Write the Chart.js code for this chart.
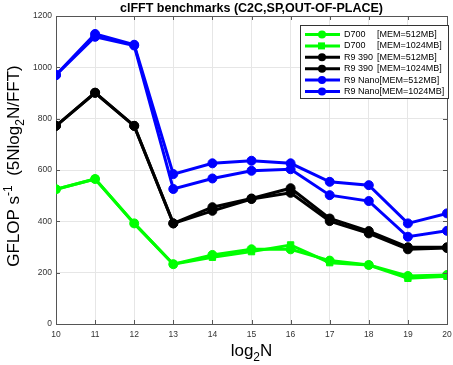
<!DOCTYPE html>
<html>
<head>
<meta charset="utf-8">
<script src="https://cdn.jsdelivr.net/npm/chart.js@4"></script>
<style>
  body { margin: 0; background: #fff; }
  #wrap { width: 453px; height: 365px; }
</style>
</head>
<body>
<div id="wrap"><canvas id="myChart" width="453" height="365"></canvas></div>
<script>
let log2N = [10, 11, 12, 13, 14, 15, 16, 17, 18, 19, 20]
let yTicks = [0, 200, 400, 600, 800, 1000, 1200]

let d700_512 = [525, 565, 392, 233, 269, 291, 291, 247, 230, 187, 191]
let d700_1024 = [525, 565, 392, 233, 260, 282, 308, 239, 230, 178, 186]
let r9390_512 = [772, 901, 772, 392, 455, 489, 529, 411, 362, 299, 299]
let r9390_1024 = [772, 901, 772, 392, 441, 487, 511, 401, 353, 291, 296]
let nano_512 = [970, 1119, 1085, 526, 567, 597, 603, 502, 479, 340, 363]
let nano_1024 = [970, 1130, 1088, 584, 626, 636, 626, 554, 541, 392, 431]

let names = ['D700', 'D700', 'R9 390', 'R9 390', 'R9 Nano', 'R9 Nano']
let mems = ['[MEM=512MB]', '[MEM=1024MB]', '[MEM=512MB]', '[MEM=1024MB]', '[MEM=512MB]', '[MEM=1024MB]']
let colors = ['#00ff00', '#00ff00', '#000000', '#000000', '#0000ff', '#0000ff']
let markers = ['circle', 'rect', 'circle', 'circle', 'circle', 'circle']
let series = [d700_512, d700_1024, r9390_512, r9390_1024, nano_512, nano_1024]

const FONT = '"Liberation Sans", Arial, sans-serif'

const datasets = series.map((vals, i) => ({
    label: names[i] + ' ' + mems[i],
    data: vals.map((v, j) => ({ x: log2N[j], y: v })),
    borderColor: colors[i],
    backgroundColor: colors[i],
    borderWidth: 3,
    pointStyle: markers[i],
    pointRadius: 4.5,
    pointBorderWidth: 1,
    tension: 0
}))

// matlab-ish extras: title, axis labels with sub/superscripts, box, legend inside
const extras = {
    id: 'extras',
    afterDraw(chart) {
        const c = chart.ctx
        const a = chart.chartArea
        c.save()
        // box top and right
        c.strokeStyle = '#555'
        c.lineWidth = 1
        c.beginPath()
        c.moveTo(a.left, a.top + 0.5); c.lineTo(a.right + 0.5, a.top + 0.5); c.lineTo(a.right + 0.5, a.bottom)
        c.stroke()
        // inward ticks
        const xs = chart.scales.x, ys = chart.scales.y
        c.beginPath()
        log2N.forEach(v => {
            const px = Math.round(xs.getPixelForValue(v)) + 0.5
            c.moveTo(px, a.bottom); c.lineTo(px, a.bottom - 4)
            c.moveTo(px, a.top); c.lineTo(px, a.top + 4)
        })
        yTicks.forEach(v => {
            const py = Math.round(ys.getPixelForValue(v)) + 0.5
            c.moveTo(a.left, py); c.lineTo(a.left + 4, py)
            c.moveTo(a.right, py); c.lineTo(a.right - 4, py)
        })
        c.stroke()

        // title
        c.fillStyle = '#000'
        c.font = 'bold 12.5px ' + FONT
        c.textAlign = 'center'
        c.textBaseline = 'alphabetic'
        c.fillText('clFFT benchmarks (C2C,SP,OUT-OF-PLACE)', (a.left + a.right) / 2, 12)

        // x label log2N
        c.textAlign = 'left'
        const xl = 'log', xs2 = '2', xn = 'N'
        c.font = '17px ' + FONT
        const w1 = c.measureText(xl).width
        c.font = '12px ' + FONT
        const w2 = c.measureText(xs2).width
        c.font = '17px ' + FONT
        const w3 = c.measureText(xn).width
        let x0 = (a.left + a.right) / 2 - (w1 + w2 + w3) / 2
        const by = 356
        c.fillText(xl, x0, by)
        c.font = '12px ' + FONT
        c.fillText(xs2, x0 + w1, by + 5)
        c.font = '17px ' + FONT
        c.fillText(xn, x0 + w1 + w2, by)

        // y label, rotated
        c.save()
        c.translate(19, 166)
        c.rotate(-Math.PI / 2)
        const parts = [
            ['GFLOP s', 17, 0], ['-1', 12, -7], ['  (5Nlog', 17, 0], ['2', 12, 5], ['N/FFT)', 17, 0]
        ]
        let tw = 0
        parts.forEach(p => { c.font = p[1] + 'px ' + FONT; tw += c.measureText(p[0]).width })
        let px = -tw / 2
        parts.forEach(p => {
            c.font = p[1] + 'px ' + FONT
            c.fillText(p[0], px, p[2])
            px += c.measureText(p[0]).width
        })
        c.restore()

        // legend box
        const lx = 300, ly = 25, lw = 148, lh = 73
        c.fillStyle = '#fff'
        c.fillRect(lx, ly, lw, lh)
        c.strokeStyle = '#333'
        c.lineWidth = 1
        c.strokeRect(lx + 0.5, ly + 0.5, lw, lh)
        c.font = '9px ' + FONT
        c.textBaseline = 'middle'
        names.forEach((n, i) => {
            const yy = ly + 9.5 + i * 11.4
            c.strokeStyle = colors[i]
            c.fillStyle = colors[i]
            c.lineWidth = 3
            c.beginPath(); c.moveTo(305, yy); c.lineTo(340, yy); c.stroke()
            if (markers[i] === 'rect') {
                c.fillRect(318, yy - 3.5, 7, 7)
            } else {
                c.beginPath(); c.arc(322, yy, 4, 0, Math.PI * 2); c.fill()
            }
            c.fillStyle = '#000'
            c.fillText(n, 344, yy)
            const mx = Math.max(377, 344 + c.measureText(n).width)
            c.fillText(mems[i], mx, yy)
        })
        c.restore()
    }
}

const ctx = document.getElementById('myChart').getContext('2d')
const myChart = new Chart(ctx, {
    type: 'line',
    data: { datasets: datasets },
    options: {
        responsive: false,
        animation: false,
        layout: { padding: { top: 16, right: 6, left: 0, bottom: 0 } },
        plugins: { legend: { display: false }, title: { display: false }, tooltip: { enabled: false } },
        scales: {
            x: {
                type: 'linear', min: 10, max: 20,
                afterFit: (s) => { s.height = 41; s.paddingLeft = 0; s.paddingRight = 0 },
                ticks: { stepSize: 1, color: '#333', font: { size: 8.5, family: FONT }, padding: 6, maxRotation: 0 },
                grid: { color: '#e6e6e6', drawTicks: false },
                border: { color: '#555' }
            },
            y: {
                min: 0, max: 1200,
                afterFit: (s) => { s.width = 56; s.paddingTop = 0; s.paddingBottom = 0 },
                ticks: { stepSize: 200, color: '#333', font: { size: 8.5, family: FONT }, padding: 4, callback: (v) => String(v) },
                grid: { color: '#e6e6e6', drawTicks: false },
                border: { color: '#555' }
            }
        }
    },
    plugins: [extras]
})
</script>
</body>
</html>
